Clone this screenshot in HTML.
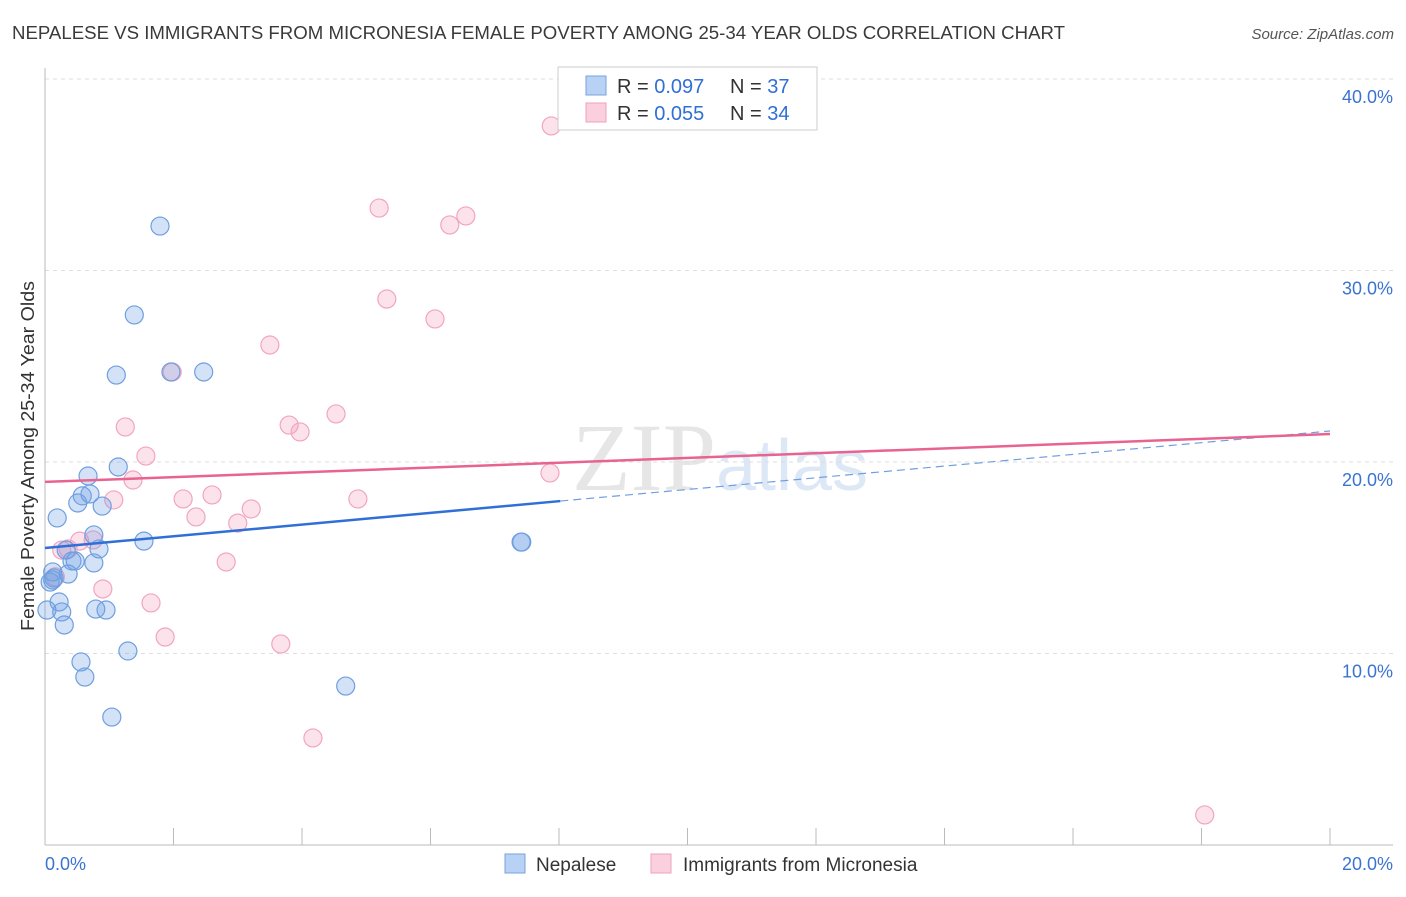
<!DOCTYPE html>
<html><head><meta charset="utf-8"><style>
body{margin:0;background:#fff;font-family:"Liberation Sans",sans-serif;}
</style></head><body>
<svg id="c" width="1406" height="892" xmlns="http://www.w3.org/2000/svg" style="font-family:'Liberation Sans',sans-serif">
<text x="12" y="39" font-size="18" fill="#3a3a3a" textLength="1053" lengthAdjust="spacingAndGlyphs">NEPALESE VS IMMIGRANTS FROM MICRONESIA FEMALE POVERTY AMONG 25-34 YEAR OLDS CORRELATION CHART</text>
<text x="1394" y="39" font-size="15" fill="#555" font-style="italic" text-anchor="end">Source: ZipAtlas.com</text>
<text x="720" y="490" font-size="96" fill="#e6e6e6" font-family="Liberation Serif" text-anchor="middle">ZIP<tspan fill="#dde8f6" font-family="Liberation Sans" font-size="72">atlas</tspan></text>
<text transform="translate(34,456) rotate(-90)" font-size="18" fill="#333" text-anchor="middle" textLength="350" lengthAdjust="spacingAndGlyphs">Female Poverty Among 25-34 Year Olds</text>
<g id="grid"></g><g id="pts"></g><g id="lines"></g>
<rect x="558" y="67" width="259" height="63" fill="#fff" stroke="#ccc"/>
<rect x="586" y="76" width="20" height="19" fill="#b8d2f5" stroke="#7aa3dd"/>
<rect x="586" y="103" width="20" height="19" fill="#fbd0de" stroke="#f0a0bb"/>
<text x="617" y="93" font-size="20" fill="#333">R = <tspan fill="#2f6fd6">0.097</tspan></text>
<text x="730" y="93" font-size="20" fill="#333">N = <tspan fill="#2f6fd6">37</tspan></text>
<text x="617" y="120" font-size="20" fill="#333">R = <tspan fill="#2f6fd6">0.055</tspan></text>
<text x="730" y="120" font-size="20" fill="#333">N = <tspan fill="#2f6fd6">34</tspan></text>
<text x="45" y="870" font-size="18" fill="#3b73d0">0.0%</text>
<text x="1393" y="870" font-size="18" fill="#3b73d0" text-anchor="end">20.0%</text>
<rect x="505" y="854" width="20" height="19" fill="#b8d2f5" stroke="#7aa3dd"/>
<text x="536" y="871" font-size="19" fill="#333">Nepalese</text>
<rect x="651" y="854" width="20" height="19" fill="#fbd0de" stroke="#f0a0bb"/>
<text x="683" y="871" font-size="19" fill="#333">Immigrants from Micronesia</text>
</svg>
<script>
const yTicks=[10,20,30,40];
const xTicks=[0,2,4,6,8,10,12,14,16,18,20];
const nepX=[1.79,1.39,1.11,2.47,1.96,1.14,0.67,0.58,0.70,0.51,0.89,0.19,0.76,1.54,0.84,0.33,0.47,0.42,0.76,0.12,0.36,0.14,0.08,0.03,0.22,0.26,0.30,0.79,0.95,1.29,0.56,0.62,1.04,4.68,7.42,7.41,0.12];
const nepY=[32.32,27.68,24.54,24.70,24.70,19.74,19.27,18.23,18.33,17.86,17.70,17.08,16.19,15.87,15.46,15.40,14.83,14.83,14.73,14.26,14.15,13.94,13.73,12.27,12.69,12.17,11.49,12.32,12.27,10.13,9.56,8.77,6.68,8.30,15.82,15.82,13.84];
const micX=[7.88,5.20,6.55,6.30,5.32,6.07,3.50,1.98,4.53,1.25,3.80,3.97,1.57,1.37,1.07,2.15,2.60,4.87,3.21,2.35,3.00,0.75,0.54,0.26,0.36,2.82,0.90,1.65,1.87,3.67,4.17,18.05,7.86,0.16];
const micY=[37.55,33.26,32.85,32.38,28.51,27.47,26.11,24.70,22.51,21.83,21.93,21.57,20.31,19.06,18.02,18.07,18.28,18.07,17.55,17.13,16.81,15.93,15.87,15.40,15.46,14.78,13.37,12.64,10.86,10.50,5.59,1.57,19.43,14.00];
const nepLine=[15.51,21.62,8.02];
const micLine=[18.96,21.46];
const NS='http://www.w3.org/2000/svg';
const X=v=>45+v/20*1285, Y=v=>845-v*19.15;
function mk(t,a,p){const e=document.createElementNS(NS,t);for(const k in a)e.setAttribute(k,a[k]);p.appendChild(e);return e;}
const g=document.getElementById('grid');
yTicks.forEach(t=>{
 const l=mk('line',{x1:45,x2:1393,y1:Y(t),y2:Y(t),stroke:'#ddd','stroke-dasharray':'4,4'},g);
 
 
 const tx=mk('text',{x:1393,y:Y(t)+24,'font-size':18,fill:'#3b73d0','text-anchor':'end'},g);
 tx.textContent=t.toFixed(1)+'%';
 
 
});
const ax=mk('line',{x1:45,x2:1393,y1:845,y2:845,stroke:'#bbb'},g);


const ay=mk('line',{x1:45,x2:45,y1:68,y2:845,stroke:'#bbb'},g);


xTicks.forEach(t=>{
 const l=mk('line',{x1:X(t),x2:X(t),y1:828,y2:845,stroke:'#bbb'},g);
 
 
});
const p=document.getElementById('pts');
micX.forEach((x,i)=>{
 const c=mk('circle',{cx:X(x),cy:Y(micY[i]),r:9,fill:'rgba(245,160,190,0.3)',stroke:'#f2a5c0','stroke-width':1.2},p);
 
 
});
nepX.forEach((x,i)=>{
 const c=mk('circle',{cx:X(x),cy:Y(nepY[i]),r:9,fill:'rgba(110,160,230,0.3)',stroke:'#6f9fe0','stroke-width':1.2},p);
 
 
});
const L=document.getElementById('lines');
const slope=(nepLine[1]-nepLine[0])/20;
const l1=mk('line',{x1:X(0),y1:Y(nepLine[0]),x2:X(nepLine[2]),y2:Y(nepLine[0]+slope*nepLine[2]),stroke:'#2f6fd6','stroke-width':2.5},L);


const l2=mk('line',{x1:X(nepLine[2]),y1:Y(nepLine[0]+slope*nepLine[2]),x2:X(20),y2:Y(nepLine[1]),stroke:'#6f9fe0','stroke-width':1.2,'stroke-dasharray':'8,5'},L);


const l3=mk('line',{x1:X(0),y1:Y(micLine[0]),x2:X(20),y2:Y(micLine[1]),stroke:'#e8638f','stroke-width':2.5},L);


</script>
</body></html>
